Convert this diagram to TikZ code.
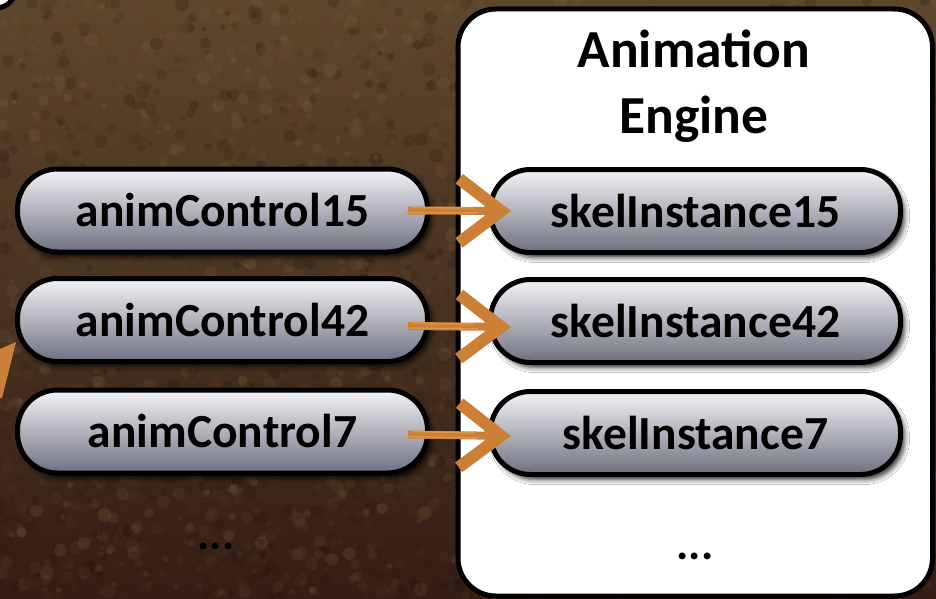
\documentclass[tikz,border=0pt]{standalone}
\usepackage{fontspec}
\setmainfont{Carlito}
\usetikzlibrary{arrows.meta,shadows.blur}

\definecolor{bgtop}{RGB}{92,70,44}
\definecolor{bgbot}{RGB}{52,30,21}
\definecolor{speckA}{RGB}{140,108,70}
\definecolor{speckB}{RGB}{26,15,10}
\definecolor{speckC}{RGB}{105,60,36}
\definecolor{pilltop}{RGB}{244,244,247}
\definecolor{pillbot}{RGB}{110,112,128}
\definecolor{brush}{RGB}{204,128,54}
\definecolor{brushlight}{RGB}{224,152,80}

\tikzset{
  pill/.style={draw=black, line width=5pt, rounded corners=40pt,
    minimum width=410pt, minimum height=83pt, inner sep=0pt,
    top color=pilltop, bottom color=pillbot,
    blur shadow={shadow xshift=4pt, shadow yshift=-5pt,
      shadow blur radius=5pt, shadow opacity=80},
    font=\bfseries\fontsize{47.5}{52}\selectfont},
  enginebox/.style={draw=black, line width=5pt, fill=white,
    rounded corners=38pt, minimum width=474.5pt, minimum height=587pt,
    inner sep=0pt},
  titletext/.style={font=\bfseries\fontsize{53.5}{60}\selectfont, inner sep=0pt, anchor=base},
  dotstext/.style={font=\bfseries\fontsize{46}{50}\selectfont, inner sep=0pt, anchor=base},
  brusharrow/.style={draw=brush, line width=8pt,
    -{Straight Barb[length=42pt, width=64pt, line width=12pt]}},
  brushstreak/.style={draw=brushlight, line width=1.5pt, opacity=0.8},
}

\begin{document}
\begin{tikzpicture}[x=1pt, y=-1pt]
\useasboundingbox (0,0) rectangle (936,599);

% textured brown backdrop
\shade[top color=bgtop, bottom color=bgbot] (0,0) rectangle (936,599);
\pgfmathsetseed{4711}
\foreach \i in {1,...,3600}{
  \pgfmathsetmacro\px{rnd*936}
  \pgfmathsetmacro\py{rnd*599}
  \pgfmathsetmacro\rr{2+rnd*5}
  \pgfmathsetmacro\op{0.06+rnd*0.16}
  \pgfmathtruncatemacro\kind{rnd*3}
  \ifcase\kind
    \fill[speckA, opacity=\op] (\px,\py) circle[radius=\rr];
  \or
    \fill[speckB, opacity=\op] (\px,\py) circle[radius=\rr];
  \else
    \fill[speckC, opacity=\op] (\px,\py) circle[radius=\rr];
  \fi
}

% corner of a neighbouring box and the tip of an incoming arrow
\draw[line width=5pt, fill=white, rounded corners=20pt] (-60,-60) rectangle (16,8);
\fill[brush] (0,349) -- (16,342) -- (2,398) -- (0,398) -- cycle;

% engine container
\node[enginebox] (engine) at (695.25,302.5) {};
\node[titletext] (title1) at (694,68) {Animation};
\node[titletext] (title2) at (694,133) {Engine};
\node[dotstext] (enginedots) at (695,559) {...};

% controllers on the left
\node[pill] (c15) at (222.5,210.5) {animControl15};
\node[pill] (c42) at (222.5,320) {animControl42};
\node[pill] (c7)  at (222.5,431.5) {animControl7};
\node[dotstext] (ctrldots) at (216,549) {...};

% skeleton instances inside the engine
\node[pill] (s15) at (695.5,211) {skelInstance15};
\node[pill] (s42) at (695.5,321) {skelInstance42};
\node[pill] (s7)  at (695.5,433) {skelInstance7};

% brush-stroke arrows
\foreach \a/\b/\dy in {c15/s15/0, c42/s42/6, c7/s7/3}{
  \draw[brusharrow] ([xshift=-22pt, yshift=-\dy pt]\a.east) -- ([xshift=23pt, yshift=-\dy pt]\b.west);
  \fill[brush] ([xshift=21pt, yshift=-\dy pt]\b.west) -- ([xshift=-6pt, yshift=-\dy pt + 13pt]\b.west)
     -- ([xshift=-2pt, yshift=-\dy pt]\b.west) -- ([xshift=-6pt, yshift=-\dy pt - 13pt]\b.west) -- cycle;
  \draw[brushstreak] ([xshift=-25pt, yshift=-\dy pt - 2pt]\a.east) -- ([xshift=-10pt, yshift=-\dy pt - 2pt]\b.west);
  \draw[brushstreak] ([xshift=-18pt, yshift=-\dy pt + 3pt]\a.east) -- ([xshift=-14pt, yshift=-\dy pt + 3pt]\b.west);
}
\end{tikzpicture}
\end{document}
